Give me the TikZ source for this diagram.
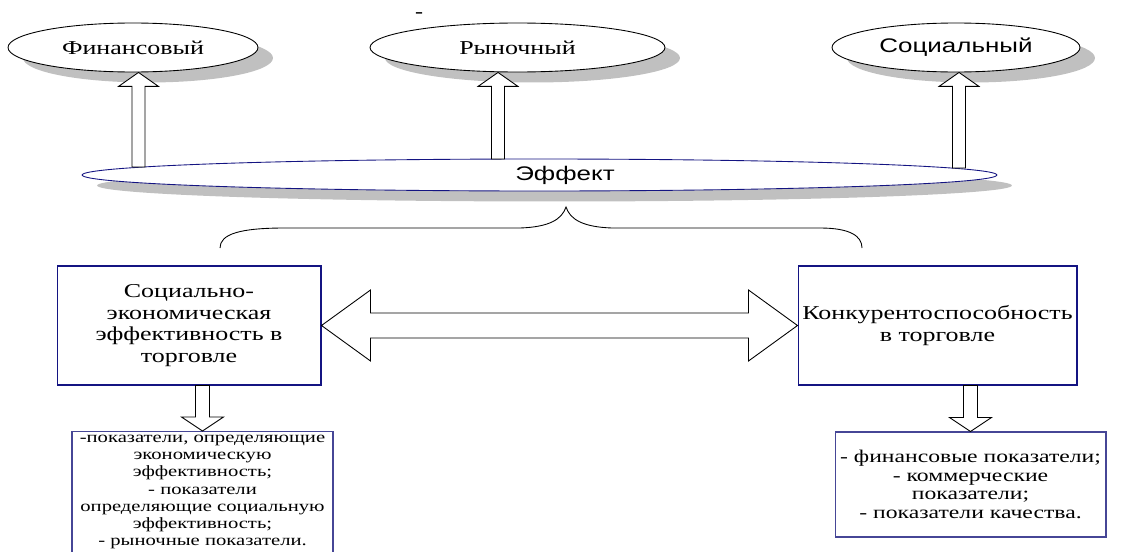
\documentclass[tikz,border=0pt]{standalone}
\usepackage{fontspec}
\setmainfont{Liberation Serif}[FakeStretch=1.32]
\setsansfont{Liberation Sans}[FakeStretch=1.32]
\usetikzlibrary{shapes.geometric,shadows,calc}

\definecolor{boxblue}{RGB}{20,20,130}
\definecolor{listblue}{RGB}{70,70,150}
\definecolor{shadowgray}{RGB}{192,192,192}

\tikzset{
  oval/.style={ellipse,draw,fill=white,inner sep=0pt,line width=0.5pt,
    font=\fontsize{11.2}{12.5}\selectfont,
    drop shadow={shadow xshift=0.3cm,shadow yshift=-0.21cm,fill=shadowgray,opacity=1}},
  mainbox/.style={draw=boxblue,line width=0.6pt,align=center,inner sep=0pt,
    font=\fontsize{11.2}{12.2}\selectfont},
  listbox/.style={draw=listblue,line width=0.6pt,align=center,inner xsep=0pt,inner ysep=2pt},
  blockarr/.style={draw,fill=white,line width=0.5pt,line join=miter}
}

% hollow block arrows: #1 base, #2 tip
\newcommand{\blockup}[2]{\draw[blockarr] ($(#1)+(-6.5,0)$) -- ($(#2)+(-6.5,14)$) -- ($(#2)+(-20,14)$) -- (#2)
  -- ($(#2)+(20,14)$) -- ($(#2)+(6.5,14)$) -- ($(#1)+(6.5,0)$) -- cycle;}
\newcommand{\blockdown}[2]{\draw[blockarr] ($(#1)+(-7,0)$) -- ($(#2)+(-7,-14)$) -- ($(#2)+(-21,-14)$) -- (#2)
  -- ($(#2)+(21,-14)$) -- ($(#2)+(7,-14)$) -- ($(#1)+(7,0)$) -- cycle;}

\begin{document}
\begin{tikzpicture}[x=0.02cm,y=-0.02cm]
\useasboundingbox (0,0) rectangle (1135,551);

% kinds of effect
\node[oval,minimum width=5cm,minimum height=0.98cm] (fin) at (133,47.5) {Финансовый};
\node[oval,minimum width=5.9cm,minimum height=0.98cm] (mkt) at (517.5,47.5) {Рыночный};
\node[oval,minimum width=4.96cm,minimum height=0.98cm,font=\sffamily\fontsize{11.2}{12.5}\selectfont] (soc) at (956,47.5) {Социальный};
\node[font=\sffamily\fontsize{11}{12}\selectfont] (dash) at (419,16) {-};

\node[oval,draw=boxblue,minimum width=18.3cm,minimum height=0.64cm,font=\sffamily\fontsize{11.2}{12.5}\selectfont] (eff) at (539.5,175) {\hspace*{1.02cm}Эффект};

\foreach \n/\x/\y in {fin/138.5/167,mkt/498/159,soc/959/168}{
  \coordinate (\n base) at (\x,\y);
  \coordinate (\n tip) at (\n.south -| \n base);
  \blockup{\n base}{\n tip}
}

% brace
\draw[line width=0.5pt] (220,248) .. controls (220,234) and (240,228) .. (285,228) -- (520,228)
  .. controls (550,227) and (562,219) .. (566,207) .. controls (570,219) and (582,227) .. (612,228)
  -- (820,228) .. controls (850,228) and (862,236) .. (862,248);

% main boxes
\node[mainbox,minimum width=5.28cm,minimum height=2.38cm] (lb) at (189,325.5)
  {Социально-\\экономическая\\эффективность в\\торговле};
\node[mainbox,minimum width=5.58cm,minimum height=2.38cm] (rb) at (937.5,325.5)
  {Конкурентоспособность\\в торговле};

\draw[blockarr] (lb.east) -- ($(lb.east)+(49,-35.5)$) -- ($(lb.east)+(49,-12.5)$)
  -- ($(rb.west)+(-49,-12.5)$) -- ($(rb.west)+(-49,-35.5)$) -- (rb.west)
  -- ($(rb.west)+(-49,35.5)$) -- ($(rb.west)+(-49,12.5)$) -- ($(lb.east)+(49,12.5)$)
  -- ($(lb.east)+(49,35.5)$) -- cycle;

% indicators
\node[listbox,anchor=north,text width=5.22cm,font=\fontsize{8.9}{9.8}\selectfont] (lowL) at (202.5,431)
  {-показатели, определяющие\\экономическую\\эффективность;\\- показатели\\определяющие социальную\\эффективность;\\- рыночные показатели.};
\node[listbox,text width=5.42cm,minimum height=2.1cm,font=\fontsize{10.2}{10.5}\selectfont] (lowR) at (970.5,484.5)
  {- финансовые показатели;\\- коммерческие\\показатели;\\- показатели качества.};

\blockdown{lb.south -| lowL.north}{lowL.north}
\blockdown{rb.south -| lowR.north}{lowR.north}
\end{tikzpicture}
\end{document}
